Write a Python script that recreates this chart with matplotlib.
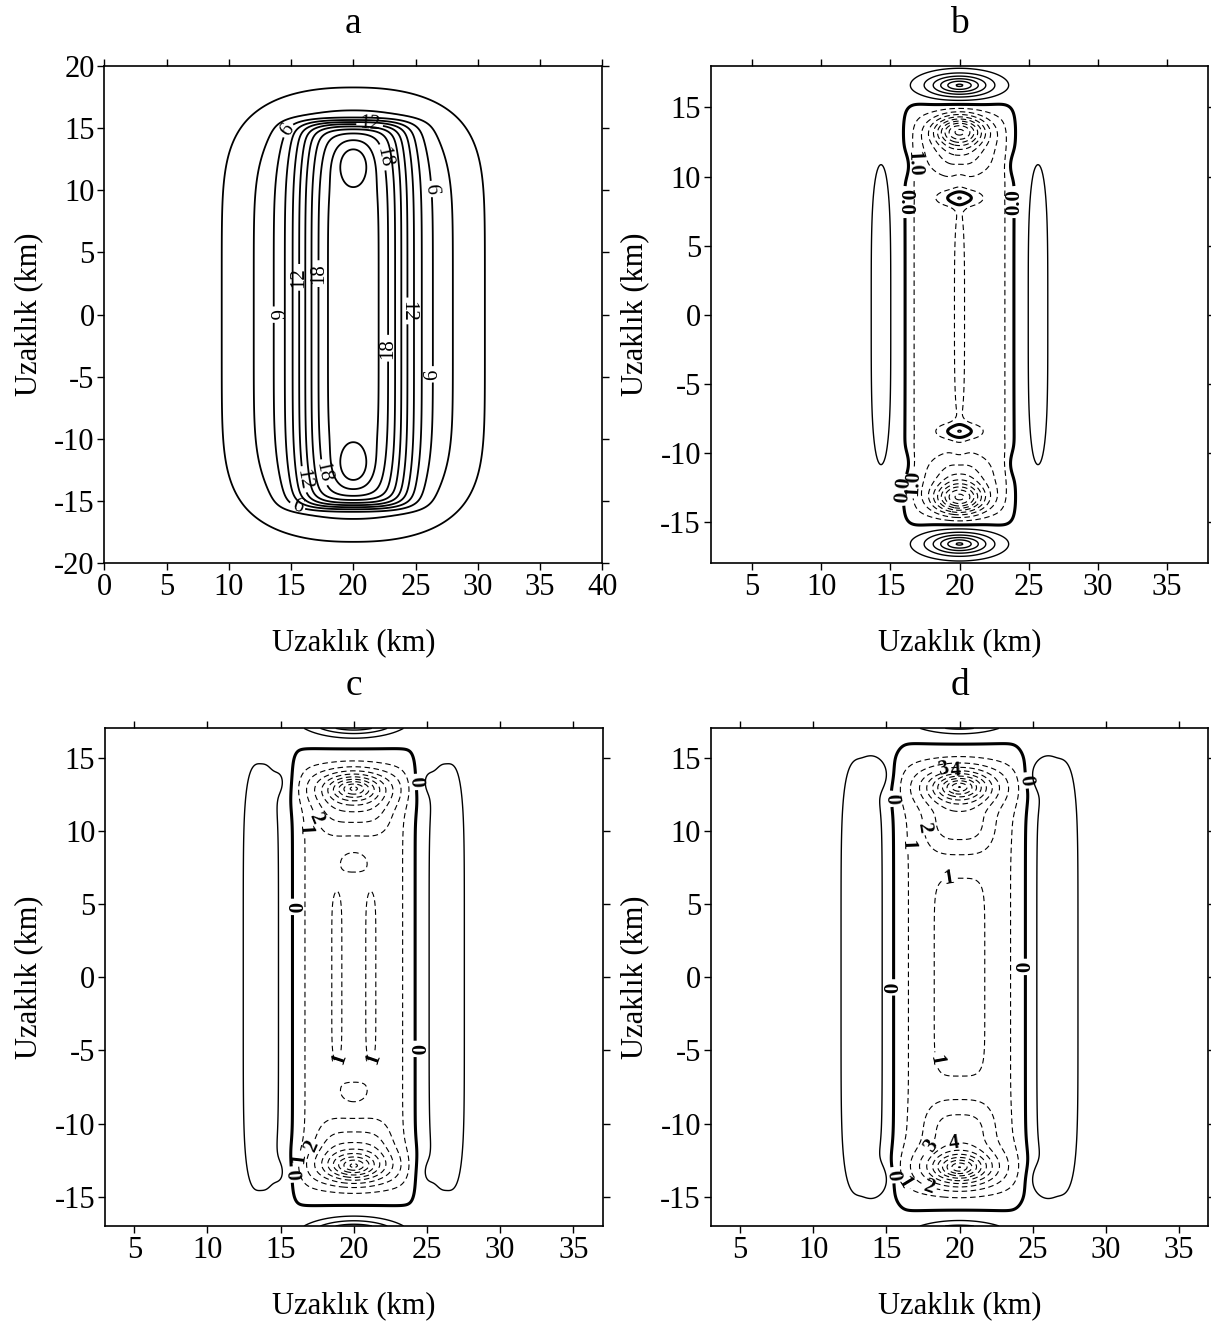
import numpy as np
import matplotlib
matplotlib.use("Agg")
import matplotlib.pyplot as plt

plt.rcParams['font.family'] = ['Liberation Serif', 'DejaVu Serif']
plt.rcParams['axes.unicode_minus'] = False
plt.rcParams['lines.scale_dashes'] = False

# ---------------- data: contour-field components ----------------
# each component: amp * exp(-((|dx-cx|/sx)^px + (|y-cy|/sy)^py)^k), dx = |x-20|
a_amp = [13.0, 8.5, 3.3]
a_cx = [0.0, 0.0, 0.0]
a_cy = [0.0, 0.0, 12.2]
a_sx = [4.4, 9.0, 1.245]
a_sy = [15.5, 17.2, 1.67]
a_px = [3.0, 2.3, 2.0]
a_py = [36.0, 6.1, 2.0]
a_k = [1.0, 1.0, 1.0]

b_amp = [-1.6, 0.9, 2.15, -7.5, -2.0, 6.2, 1.3, 0.6]
b_cx = [0.0, 0.0, 0.0, 0.0, 0.0, 0.0, 5.68, 4.0]
b_cy = [0.0, 0.0, 8.45, 13.3, 11.6, 16.6, 0.0, 10.8]
b_sx = [3.66, 0.55, 1.5, 1.8, 2.0, 2.35, 1.33, 0.6]
b_sy = [14.8, 9.5, 0.58, 1.1, 1.4, 0.82, 14.9, 0.9]
b_px = [8.4, 2.0, 2.0, 2.0, 2.0, 2.0, 2.0, 2.0]
b_py = [14.0, 4.0, 2.0, 2.0, 2.0, 2.0, 4.0, 2.0]
b_k = [1.0, 1.0, 1.0, 1.0, 1.0, 0.75, 1.0, 1.0]

c_amp = [-1.55, 0.7, 0.8, -7.5, -1.5, 6.0, 1.5, 0.6]
c_cx = [0.0, 1.16, 0.0, 0.0, 0.0, 0.0, 6.35, 4.8]
c_cy = [0.0, 0.0, 7.9, 12.9, 11.2, 17.8, 0.0, 13.3]
c_sx = [3.745, 0.65, 1.36, 2.0, 2.4, 3.0, 1.6, 0.6]
c_sy = [14.6, 6.81, 1.11, 1.0, 1.5, 1.1, 16.86, 1.3]
c_px = [7.6, 2.0, 2.0, 2.0, 4.0, 2.0, 3.0, 2.0]
c_py = [20.0, 8.0, 2.0, 2.0, 2.0, 2.0, 6.0, 2.0]
c_k = [1.0, 1.0, 1.0, 0.75, 1.0, 1.0, 1.0, 1.0]

d_amp = [-1.45, 0.75, -8.5, -2.0, 6.0, 1.5, 0.8]
d_cx = [0.0, 0.0, 0.0, 0.0, 0.0, 6.65, 5.4]
d_cy = [0.0, 0.0, 13.0, 10.3, 18.1, 0.0, 13.8]
d_sx = [4.28, 1.976, 2.0, 2.3, 3.0, 1.92, 0.8]
d_sy = [15.0, 7.44, 1.05, 1.8, 1.1, 17.2, 1.0]
d_px = [5.36, 4.0, 2.0, 3.0, 2.0, 3.0, 2.0]
d_py = [20.0, 8.0, 2.0, 2.0, 2.0, 6.0, 2.0]
d_k = [1.0, 1.0, 0.75, 1.0, 1.0, 1.0, 1.0]

offset_bcd = 0.02

# axis limits and ticks
a_xlim, a_ylim = (0, 40), (-20, 20)
b_xlim, b_ylim = (2, 38), (-18, 18)
cd_xlim, cd_ylim = (3, 37), (-17, 17)
a_xticks = list(range(0, 41, 5)); a_yticks = list(range(-20, 21, 5))
bcd_xticks = list(range(5, 36, 5)); bcd_yticks = list(range(-15, 16, 5))

# contour levels
a_levels = [2, 4, 6, 8, 10, 12, 14, 16, 18, 20, 22]
neg_levels = [-12, -11, -10, -9, -8, -7, -6, -5, -4, -3, -2, -1]
pos_levels = [1, 2, 3, 4, 5, 6, 7]

# label positions (approximate, from the picture)
a_lab = {6: [(13.5, 0.0), (15.2, 14.5), (26.2, 10.1), (26.5, -4.8), (15.7, -14.9)],
         12: [(15.8, 3.0), (24.1, 0.3), (21.3, 15.0), (16.35, -13.2)],
         18: [(17.4, 3.3), (22.7, -2.7), (22.1, 12.6), (17.6, -12.7)]}
b_lab = {0: [(16.1, 8.15), (23.9, 8.15), (16.4, -12.7)],
         -1: [(17.7, 11.0), (17.5, -12.2)]}
c_lab = {0: [(15.8, 4.8), (24.1, -4.9), (23.75, 13.3), (16.3, -13.45)],
         -1: [(17.65, 10.1), (18.85, -5.5), (21.18, -5.5), (17.16, -12.5)],
         -2: [(18.2, 11.2), (18.1, -12.0)]}
d_lab = {0: [(15.8, 12.2), (23.6, 13.3), (15.45, -0.7), (24.4, 0.7), (16.1, -13.45)],
         -1: [(19.3, 6.6), (18.3, -5.7), (17.77, 9.08), (17.3, -13.4)],
         -2: [(18.64, 10.4), (18.2, -13.5)],
         -3: [(19.1, 13.2), (19.1, -12.3)],
         -4: [(19.8, 13.2), (19.8, -12.3)]}


def build(X, Y, amp, cx, cy, sx, sy, px, py, k, base=0.0):
    dx = np.abs(X - 20.0)
    ay = np.abs(Y)
    Z = np.full_like(X, base)
    for i in range(len(amp)):
        u = (np.abs(dx - cx[i]) / sx[i]) ** px[i] + (np.abs(ay - cy[i]) / sy[i]) ** py[i]
        Z += amp[i] * np.exp(-u ** k[i])
    return Z


fig = plt.figure(figsize=(12.11, 13.21), dpi=100)
W, H = 1211.0, 1321.0
rects = {
    'a': [104.3 / W, 1 - 563.3 / H, 498.0 / W, 497.3 / H],
    'b': [710.7 / W, 1 - 563.3 / H, 497.6 / W, 497.3 / H],
    'c': [105.0 / W, 1 - 1226.0 / H, 497.6 / W, 497.7 / H],
    'd': [710.7 / W, 1 - 1226.0 / H, 497.6 / W, 497.7 / H],
}

TICK_FS = 22
dash = (0, (4.0, 2.5))


def style_axes(ax, xlim, ylim, xt, yt, title):
    ax.set_xlim(*xlim); ax.set_ylim(*ylim)
    ax.set_xticks(xt); ax.set_yticks(yt)
    ax.tick_params(direction='out', length=5, width=1.0, top=True, right=True,
                   labelsize=TICK_FS, pad=2)
    for s in ax.spines.values():
        s.set_linewidth(1.2)
    ax.set_xlabel('Uzaklık (km)', fontsize=TICK_FS, labelpad=19)
    ax.set_ylabel('Uzaklık (km)', fontsize=TICK_FS, labelpad=8)
    ax.text(0.5, 1.066, title, transform=ax.transAxes, ha='center', va='baseline', fontsize=27)


def draw_levels(ax, X, Y, Z, levels, lab, fmt, lfs, lfw, **style):
    for lev in levels:
        cs = ax.contour(X, Y, Z, levels=[lev], colors='k', **style)
        if lev in lab and len(cs.allsegs[0]) > 0:
            texts = ax.clabel(cs, manual=lab[lev], inline=True, inline_spacing=3,
                              fontsize=lfs, fmt={lev: fmt(lev)})
            for t in texts:
                t.set_fontweight(lfw)


# ---- panel a ----
ax = fig.add_axes(rects['a'])
x = np.linspace(a_xlim[0], a_xlim[1], 500)
y = np.linspace(a_ylim[0], a_ylim[1], 500)
X, Y = np.meshgrid(x, y)
Z = build(X, Y, a_amp, a_cx, a_cy, a_sx, a_sy, a_px, a_py, a_k)
draw_levels(ax, X, Y, Z, a_levels, a_lab, lambda l: '%d' % l, 15, 'normal', linewidths=1.3)
style_axes(ax, a_xlim, a_ylim, a_xticks, a_yticks, 'a')


def draw_bcd(key, xlim, ylim, params, lab, fmt):
    ax = fig.add_axes(rects[key])
    x = np.linspace(xlim[0], xlim[1], 500)
    y = np.linspace(ylim[0], ylim[1], 500)
    X, Y = np.meshgrid(x, y)
    Z = build(X, Y, *params, base=offset_bcd)
    zmin, zmax = Z.min(), Z.max()
    nl = [l for l in neg_levels if l > zmin]
    pl = [l for l in pos_levels if l < zmax]
    draw_levels(ax, X, Y, Z, nl, lab, fmt, 15, 'bold', linewidths=0.8, linestyles=[dash])
    draw_levels(ax, X, Y, Z, pl, lab, fmt, 15, 'bold', linewidths=1.0, linestyles='solid')
    draw_levels(ax, X, Y, Z, [0], lab, fmt, 15, 'bold', linewidths=2.2, linestyles='solid')
    return ax


ax = draw_bcd('b', b_xlim, b_ylim, (b_amp, b_cx, b_cy, b_sx, b_sy, b_px, b_py, b_k), b_lab,
              lambda l: '%.1f' % abs(l))
style_axes(ax, b_xlim, b_ylim, bcd_xticks, bcd_yticks, 'b')

ax = draw_bcd('c', cd_xlim, cd_ylim, (c_amp, c_cx, c_cy, c_sx, c_sy, c_px, c_py, c_k), c_lab,
              lambda l: '%d' % abs(l))
style_axes(ax, cd_xlim, cd_ylim, bcd_xticks, bcd_yticks, 'c')

ax = draw_bcd('d', cd_xlim, cd_ylim, (d_amp, d_cx, d_cy, d_sx, d_sy, d_px, d_py, d_k), d_lab,
              lambda l: '%d' % abs(l))
style_axes(ax, cd_xlim, cd_ylim, bcd_xticks, bcd_yticks, 'd')

fig.savefig('out.png', dpi=100)
